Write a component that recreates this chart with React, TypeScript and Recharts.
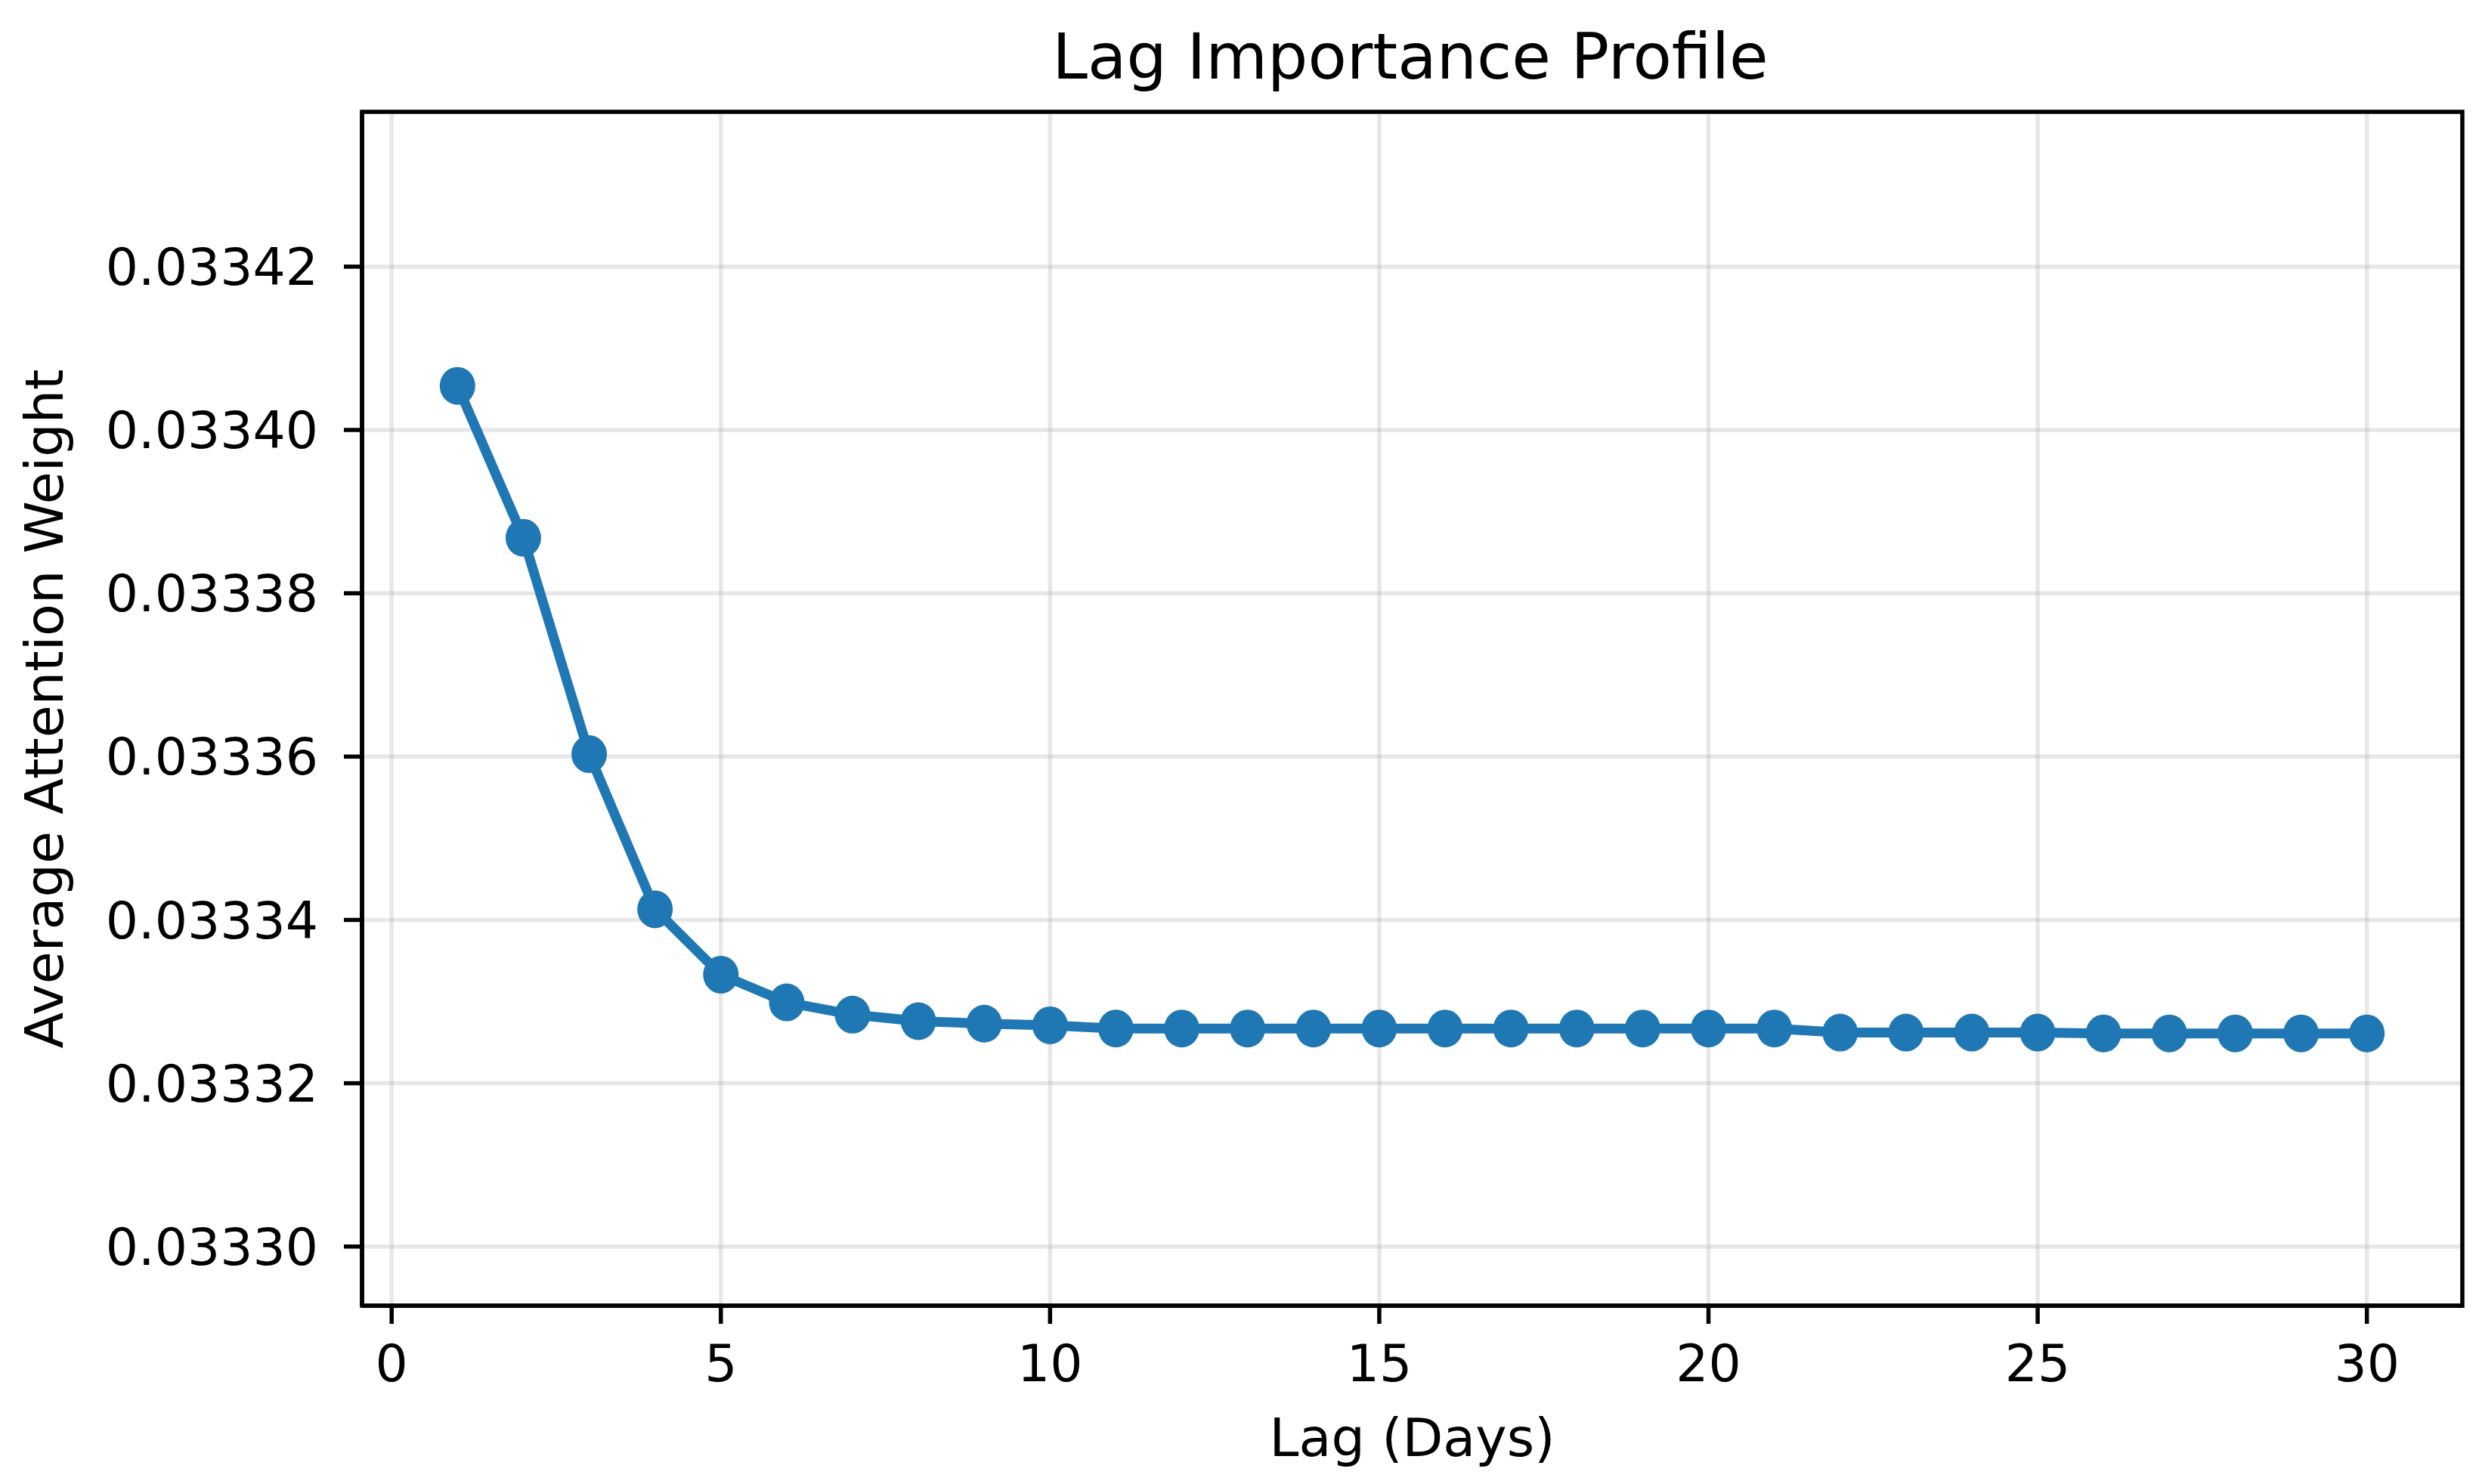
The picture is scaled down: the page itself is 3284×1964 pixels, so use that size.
import React from 'react';
import { LineChart, Line, XAxis, YAxis, CartesianGrid, ReferenceArea, Label } from 'recharts';

const lags = [1, 2, 3, 4, 5, 6, 7, 8, 9, 10, 11, 12, 13, 14, 15, 16, 17, 18, 19, 20, 21, 22, 23, 24, 25, 26, 27, 28, 29, 30];
const weights = [
  0.0334054, 0.0333868, 0.0333603, 0.0333413, 0.0333333, 0.0333299, 0.0333284, 0.0333276, 0.0333273, 0.0333271,
  0.0333267, 0.0333267, 0.0333267, 0.0333267, 0.0333267, 0.0333267, 0.0333267, 0.0333267, 0.0333267, 0.0333267,
  0.0333267, 0.0333262, 0.0333262, 0.0333262, 0.0333262, 0.0333261, 0.0333261, 0.0333261, 0.0333261, 0.0333261,
];
const xTicks = [0, 5, 10, 15, 20, 25, 30];
const yTicks = [0.0333, 0.03332, 0.03334, 0.03336, 0.03338, 0.0334, 0.03342];
const xDomain: [number, number] = [-0.45, 31.45];
const yDomain: [number, number] = [0.03329276, 0.03343896];

const title = 'Lag Importance Profile';
const xLabel = 'Lag (Days)';
const yLabel = 'Average Attention Weight';

const data = lags.map((lag, i) => ({ lag, weight: weights[i] }));

const FONT = 'DejaVu Sans';
const W = 3284;
const H = 1964;
const LW = 5.5;
const BLUE = '#1f77b4';

const Marker = (props: any) => {
  const { cx, cy, index } = props;
  if (cx == null || cy == null) return <g key={`m-${index}`} />;
  return <ellipse key={`m-${index}`} cx={cx} cy={cy} rx={23.5} ry={25} fill={BLUE} stroke="none" />;
};

export default function App() {
  return (
    <div style={{ position: 'absolute', left: 0, top: 0, width: W, height: H, background: '#fff' }}>
      <LineChart
        width={W}
        height={H}
        data={data}
        margin={{ top: 148, right: 26, bottom: 0, left: 0 }}
      >
        <CartesianGrid stroke="#b0b0b0" strokeOpacity={0.3} strokeWidth={LW} />
        <XAxis
          dataKey="lag"
          type="number"
          domain={xDomain}
          ticks={xTicks}
          allowDataOverflow
          height={236}
          axisLine={{ stroke: '#000', strokeWidth: LW }}
          tickLine={{ stroke: '#000', strokeWidth: LW }}
          tickSize={24}
          tickMargin={28}
          tick={{ fill: '#000', fontSize: 68, fontFamily: FONT }}
        >
          <Label
            content={(props: any) => {
              const vb = props.viewBox || {};
              const cx = (vb.x ?? 0) + (vb.width ?? 0) / 2;
              return (
                <text x={cx} y={1927} textAnchor="middle" fontSize={70} fontFamily={FONT} fill="#000">
                  {xLabel}
                </text>
              );
            }}
          />
        </XAxis>
        <YAxis
          type="number"
          domain={yDomain}
          ticks={yTicks}
          allowDataOverflow
          width={479}
          axisLine={{ stroke: '#000', strokeWidth: LW }}
          tickLine={{ stroke: '#000', strokeWidth: LW }}
          tickSize={24}
          tickMargin={34}
          tickFormatter={(v: number) => v.toFixed(5)}
          tick={{ fill: '#000', fontSize: 68, fontFamily: FONT }}
        >
          <Label
            content={(props: any) => {
              const vb = props.viewBox || {};
              const cy = (vb.y ?? 0) + (vb.height ?? 0) / 2;
              const cx = 83;
              return (
                <text
                  x={cx}
                  y={cy}
                  transform={`rotate(-90, ${cx}, ${cy})`}
                  textAnchor="middle"
                  fontSize={70}
                  fontFamily={FONT}
                  fill="#000"
                >
                  {yLabel}
                </text>
              );
            }}
          />
        </YAxis>
        <ReferenceArea
          x1={xDomain[0]}
          x2={xDomain[1]}
          y1={yDomain[0]}
          y2={yDomain[1]}
          fill="none"
          fillOpacity={0}
          stroke="#000"
          strokeWidth={LW}
          ifOverflow="visible"
        />
        <Line
          type="linear"
          dataKey="weight"
          stroke={BLUE}
          strokeWidth={13}
          strokeLinejoin="round"
          strokeLinecap="butt"
          dot={Marker}
          activeDot={false}
          isAnimationActive={false}
        />
      </LineChart>
      <svg
        width={W}
        height={H}
        style={{ position: 'absolute', left: 0, top: 0, pointerEvents: 'none' }}
      >
        <text x={1866} y={104} textAnchor="middle" fontSize={84} fontFamily={FONT} fill="#000">
          {title}
        </text>
      </svg>
    </div>
  );
}
